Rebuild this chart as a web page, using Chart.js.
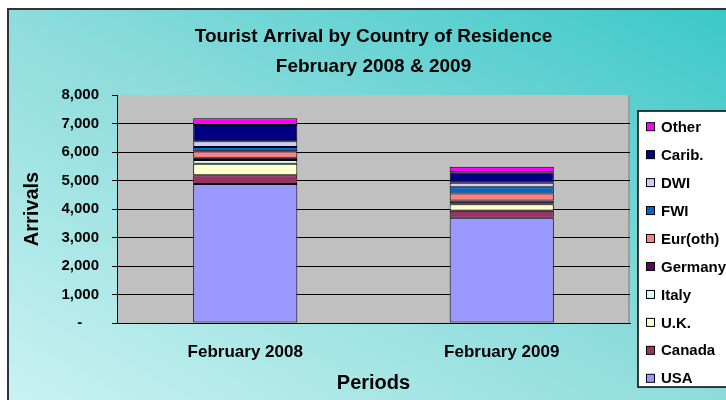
<!DOCTYPE html>
<html>
<head>
<meta charset="utf-8">
<script src="https://cdn.jsdelivr.net/npm/chart.js@4.4.1/dist/chart.umd.min.js"></script>
<style>
    html, body { margin: 0; padding: 0; background: #fff; overflow: hidden; }
    #frame {
        position: absolute; left: 7px; top: 8px;
        width: 717px; height: 390px;
        border-left: 2px solid #333; border-top: 2px solid #333;
        background: linear-gradient(to top right, #c8f2f2 0%, #8edcdc 50%, #3cc8c8 100%);
        overflow: hidden;
    }
    canvas { display: block; }
</style>
</head>
<body>
<div id="frame"><canvas id="chartArrivals" width="717" height="390"></canvas></div>
<script>
// Dados
const periods = ['February 2008', 'February 2009'];
const countries = ['USA', 'Canada', 'U.K.', 'Italy', 'Germany', 'Eur(oth)', 'FWI', 'DWI', 'Carib.', 'Other'];
const usa      = [4880, 3690];
const canada   = [305, 245];
const uk       = [405, 235];
const italy    = [130, 35];
const germany  = [80, 90];
const eurOther = [230, 245];
const fwi      = [145, 225];
const dwi      = [200, 160];
const carib    = [570, 365];
const other    = [235, 195];
const yTicks   = [0, 1000, 2000, 3000, 4000, 5000, 6000, 7000, 8000];

const seriesValues = [usa, canada, uk, italy, germany, eurOther, fwi, dwi, carib, other];
const colours = ['#9999FF', '#993366', '#FFFFCC', '#CCFFFF', '#660066', '#FF8080', '#0066CC', '#CCCCFF', '#000080', '#FF00FF'];

const FONT = "'Liberation Sans', Arial, sans-serif";

// Fundo cinza da área de plotagem
const plotBackground = {
    id: 'plotBackground',
    beforeDraw: (chart) => {
        const { ctx, chartArea: a } = chart;
        ctx.save();
        ctx.fillStyle = '#C0C0C0';
        ctx.fillRect(a.left, a.top, a.right - a.left, a.bottom - a.top);
        ctx.fillStyle = '#9c9c9c';
        ctx.fillRect(a.right - 2, a.top, 2, a.bottom - a.top);
        ctx.restore();
    }
};

// Legenda em caixa branca (ordem invertida, como no original)
const boxLegend = {
    id: 'boxLegend',
    afterDraw: (chart) => {
        const ctx = chart.ctx;
        const left = 629, top = 101, bottom = 377;
        ctx.save();
        ctx.fillStyle = '#fff';
        ctx.fillRect(left, top, 140, bottom - top);
        ctx.strokeStyle = '#000';
        ctx.lineWidth = 1.5;
        ctx.strokeRect(left, top, 140, bottom - top);

        const sets = chart.data.datasets.slice().reverse();
        const step = (368.3 - 116.7) / (sets.length - 1);
        ctx.font = 'bold 15px ' + FONT;
        ctx.textBaseline = 'middle';
        sets.forEach((ds, i) => {
            const y = 116.7 + i * step;
            ctx.fillStyle = ds.backgroundColor;
            ctx.fillRect(637.5, y - 4, 8, 8);
            ctx.lineWidth = 1;
            ctx.strokeStyle = '#000';
            ctx.strokeRect(637.5, y - 4, 8, 8);
            ctx.fillStyle = '#000';
            ctx.fillText(ds.label, 652, y + 1);
        });
        ctx.restore();
    }
};

new Chart(document.getElementById('chartArrivals'), {
    type: 'bar',
    data: {
        labels: periods,
        datasets: countries.map((name, i) => ({
            label: name,
            data: seriesValues[i],
            backgroundColor: colours[i],
            borderColor: '#000',
            borderWidth: 1,
            borderSkipped: false,
            barPercentage: 0.406,
            categoryPercentage: 1
        }))
    },
    options: {
        responsive: false,
        animation: false,
        devicePixelRatio: 1,
        layout: { padding: { left: 0, right: 96, top: 0, bottom: 0 } },
        plugins: {
            legend: { display: false },
            tooltip: { enabled: false },
            title: {
                display: true,
                fullSize: false,
                text: ['Tourist Arrival by Country of Residence', 'February 2008 & 2009'],
                color: '#000',
                font: { family: FONT, size: 19, weight: 'bold', lineHeight: '30px' },
                padding: { top: 12, bottom: 13 }
            }
        },
        scales: {
            x: {
                stacked: true,
                grid: { display: false },
                border: { display: true, color: '#000', width: 1 },
                ticks: { color: '#000', padding: 11, font: { family: FONT, size: 17, weight: 'bold' } },
                title: {
                    display: true, text: 'Periods', color: '#000',
                    font: { family: FONT, size: 20, weight: 'bold' },
                    padding: { top: 0, bottom: 5 }
                },
                afterFit: (scale) => { scale.height = 77; }
            },
            y: {
                stacked: true,
                min: yTicks[0],
                max: yTicks[yTicks.length - 1],
                afterBuildTicks: (scale) => { scale.ticks = yTicks.map(v => ({ value: v })); },
                grid: {
                    color: (c) => (c.tick && c.tick.value === 8000 ? 'rgba(0,0,0,0)' : '#000'),
                    tickColor: '#000',
                    tickLength: 5,
                    lineWidth: 1
                },
                border: { display: true, color: '#000', width: 1 },
                ticks: {
                    color: '#000',
                    padding: 13,
                    autoSkip: false,
                    font: { family: FONT, size: 15, weight: 'bold' },
                    callback: (v) => (v === 0 ? '-    ' : v.toLocaleString('en-US'))
                },
                title: {
                    display: true, text: 'Arrivals', color: '#000',
                    font: { family: FONT, size: 20, weight: 'bold' },
                    padding: { top: 11, bottom: 0 }
                },
                afterFit: (scale) => { scale.width = 108; }
            }
        }
    },
    plugins: [plotBackground, boxLegend]
});
</script>
</body>
</html>
